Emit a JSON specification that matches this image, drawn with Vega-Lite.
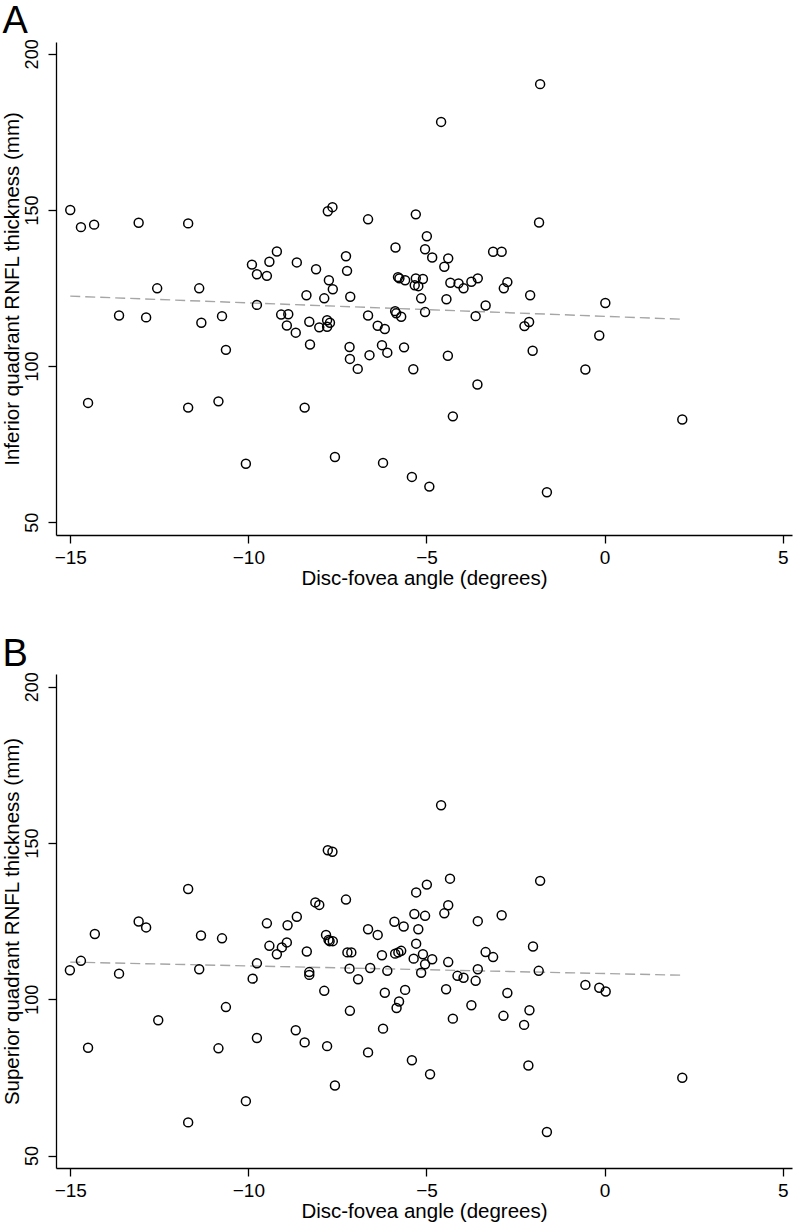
{
  "$schema": "https://vega.github.io/schema/vega-lite/v6.json",
  "padding": {"left": 2, "top": 2, "right": 2, "bottom": 0},
  "background": "white",
  "spacing": 46,
  "config": {
    "view": {"stroke": null},
    "font": "Liberation Sans",
    "axis": {
      "grid": false,
      "domainColor": "black",
      "domainWidth": 1.3,
      "tickColor": "black",
      "tickWidth": 1.3,
      "tickSize": 8,
      "labelColor": "black",
      "titleColor": "black",
      "labelFont": "Liberation Sans",
      "titleFont": "Liberation Sans",
      "titleFontSize": 20.5,
      "titleFontWeight": "normal"
    },
    "axisX": {"labelFontSize": 19, "labelPadding": 5, "titlePadding": 1},
    "axisY": {"labelFontSize": 18, "labelPadding": 7, "titlePadding": 0.5, "labelAngle": -90},
    "title": {"font": "Liberation Sans", "fontWeight": "normal", "fontSize": 38, "color": "black", "anchor": "start", "frame": "bounds", "offset": -2}
  },
  "datasets": {
    "inf": [
      {"angle": -15.0, "thickness": 150.0}, {"angle": -14.7, "thickness": 144.5}, {"angle": -14.33, "thickness": 145.3},
      {"angle": -13.08, "thickness": 145.9}, {"angle": -11.69, "thickness": 145.7}, {"angle": -9.9, "thickness": 132.5},
      {"angle": -9.76, "thickness": 129.4}, {"angle": -9.48, "thickness": 128.9}, {"angle": -9.41, "thickness": 133.4},
      {"angle": -9.2, "thickness": 136.7}, {"angle": -8.64, "thickness": 133.2}, {"angle": -12.56, "thickness": 124.9},
      {"angle": -11.38, "thickness": 124.9}, {"angle": -1.81, "thickness": 190.3}, {"angle": -4.59, "thickness": 178.2},
      {"angle": -7.77, "thickness": 149.6}, {"angle": -7.64, "thickness": 150.9}, {"angle": -6.64, "thickness": 147.0},
      {"angle": -5.3, "thickness": 148.6}, {"angle": -1.84, "thickness": 146.0}, {"angle": -4.99, "thickness": 141.6},
      {"angle": -5.87, "thickness": 138.0}, {"angle": -5.04, "thickness": 137.4}, {"angle": -4.84, "thickness": 134.8},
      {"angle": -4.39, "thickness": 134.5}, {"angle": -4.5, "thickness": 131.8}, {"angle": -3.13, "thickness": 136.6},
      {"angle": -2.89, "thickness": 136.6}, {"angle": -7.26, "thickness": 135.2}, {"angle": -7.23, "thickness": 130.5},
      {"angle": -8.1, "thickness": 131.0}, {"angle": -7.74, "thickness": 127.5}, {"angle": -7.63, "thickness": 124.6},
      {"angle": -5.8, "thickness": 128.5}, {"angle": -5.76, "thickness": 128.1}, {"angle": -5.6, "thickness": 127.5},
      {"angle": -5.3, "thickness": 128.1}, {"angle": -5.1, "thickness": 127.9}, {"angle": -5.33, "thickness": 125.9},
      {"angle": -5.23, "thickness": 125.6}, {"angle": -4.33, "thickness": 126.7}, {"angle": -4.1, "thickness": 126.5},
      {"angle": -3.96, "thickness": 124.9}, {"angle": -3.74, "thickness": 127.0}, {"angle": -3.56, "thickness": 128.1},
      {"angle": -2.73, "thickness": 126.9}, {"angle": -2.83, "thickness": 124.9}, {"angle": -8.37, "thickness": 122.7},
      {"angle": -7.87, "thickness": 121.7}, {"angle": -7.14, "thickness": 122.2}, {"angle": -5.15, "thickness": 121.7},
      {"angle": -4.44, "thickness": 121.4}, {"angle": -2.09, "thickness": 122.7}, {"angle": -8.29, "thickness": 114.2},
      {"angle": -8.67, "thickness": 110.7}, {"angle": -8.01, "thickness": 112.4}, {"angle": -7.79, "thickness": 114.7},
      {"angle": -7.71, "thickness": 113.9}, {"angle": -7.79, "thickness": 112.6}, {"angle": -8.27, "thickness": 106.9},
      {"angle": -6.64, "thickness": 116.2}, {"angle": -6.37, "thickness": 112.9}, {"angle": -6.17, "thickness": 111.9},
      {"angle": -5.88, "thickness": 117.6}, {"angle": -5.85, "thickness": 116.9}, {"angle": -5.71, "thickness": 115.8},
      {"angle": -5.04, "thickness": 117.3}, {"angle": -3.34, "thickness": 119.4}, {"angle": -3.62, "thickness": 116.0},
      {"angle": -2.25, "thickness": 112.8}, {"angle": -2.12, "thickness": 114.1}, {"angle": -7.16, "thickness": 106.1},
      {"angle": -7.15, "thickness": 102.3}, {"angle": -6.93, "thickness": 99.1}, {"angle": -6.6, "thickness": 103.5},
      {"angle": -6.25, "thickness": 106.7}, {"angle": -6.1, "thickness": 104.3}, {"angle": -5.63, "thickness": 106.0},
      {"angle": -5.37, "thickness": 99.0}, {"angle": -4.4, "thickness": 103.3}, {"angle": -2.02, "thickness": 104.9},
      {"angle": -3.57, "thickness": 94.1}, {"angle": -4.26, "thickness": 83.9}, {"angle": -8.42, "thickness": 86.7},
      {"angle": -7.57, "thickness": 70.9}, {"angle": -6.22, "thickness": 69.0}, {"angle": -5.41, "thickness": 64.5},
      {"angle": -4.92, "thickness": 61.4}, {"angle": -1.62, "thickness": 59.6}, {"angle": 0.02, "thickness": 120.2},
      {"angle": -0.15, "thickness": 109.8}, {"angle": -0.54, "thickness": 98.9}, {"angle": 2.18, "thickness": 82.9},
      {"angle": -13.63, "thickness": 116.2}, {"angle": -12.87, "thickness": 115.6}, {"angle": -11.32, "thickness": 113.9},
      {"angle": -10.74, "thickness": 116.0}, {"angle": -10.63, "thickness": 105.2}, {"angle": -9.76, "thickness": 119.6},
      {"angle": -9.08, "thickness": 116.5}, {"angle": -8.88, "thickness": 116.6}, {"angle": -8.92, "thickness": 113.0},
      {"angle": -14.5, "thickness": 88.2}, {"angle": -11.69, "thickness": 86.7}, {"angle": -10.84, "thickness": 88.7},
      {"angle": -10.07, "thickness": 68.7}
    ],
    "sup": [
      {"angle": -11.69, "thickness": 135.3}, {"angle": -13.08, "thickness": 124.9}, {"angle": -12.87, "thickness": 123.0},
      {"angle": -9.48, "thickness": 124.3}, {"angle": -8.9, "thickness": 123.7}, {"angle": -8.64, "thickness": 126.4},
      {"angle": -14.31, "thickness": 120.9}, {"angle": -4.59, "thickness": 162.1}, {"angle": -7.77, "thickness": 147.7},
      {"angle": -7.64, "thickness": 147.2}, {"angle": -4.34, "thickness": 138.6}, {"angle": -1.81, "thickness": 137.9},
      {"angle": -4.99, "thickness": 136.7}, {"angle": -5.29, "thickness": 134.2}, {"angle": -8.12, "thickness": 131.0},
      {"angle": -8.01, "thickness": 130.2}, {"angle": -7.26, "thickness": 131.9}, {"angle": -5.34, "thickness": 127.3},
      {"angle": -5.04, "thickness": 126.7}, {"angle": -4.39, "thickness": 130.1}, {"angle": -4.5, "thickness": 127.5},
      {"angle": -3.56, "thickness": 125.0}, {"angle": -2.89, "thickness": 126.9}, {"angle": -5.9, "thickness": 124.8},
      {"angle": -5.64, "thickness": 123.3}, {"angle": -5.23, "thickness": 122.4}, {"angle": -6.64, "thickness": 122.4},
      {"angle": -6.37, "thickness": 120.6}, {"angle": -7.82, "thickness": 120.6}, {"angle": -7.75, "thickness": 119.0},
      {"angle": -7.63, "thickness": 118.6}, {"angle": -7.72, "thickness": 118.6}, {"angle": -8.36, "thickness": 115.3},
      {"angle": -7.22, "thickness": 115.0}, {"angle": -7.11, "thickness": 115.0}, {"angle": -6.25, "thickness": 114.1},
      {"angle": -5.88, "thickness": 114.6}, {"angle": -5.79, "thickness": 115.0}, {"angle": -5.71, "thickness": 115.5},
      {"angle": -5.29, "thickness": 117.8}, {"angle": -5.36, "thickness": 113.0}, {"angle": -5.1, "thickness": 114.4},
      {"angle": -4.84, "thickness": 112.8}, {"angle": -5.04, "thickness": 111.2}, {"angle": -4.39, "thickness": 111.9},
      {"angle": -3.34, "thickness": 115.1}, {"angle": -3.13, "thickness": 113.5}, {"angle": -2.01, "thickness": 116.9},
      {"angle": -1.85, "thickness": 109.1}, {"angle": -8.29, "thickness": 108.7}, {"angle": -8.29, "thickness": 107.8},
      {"angle": -7.16, "thickness": 109.8}, {"angle": -6.58, "thickness": 110.0}, {"angle": -6.92, "thickness": 106.4},
      {"angle": -6.1, "thickness": 109.1}, {"angle": -5.15, "thickness": 108.5}, {"angle": -4.13, "thickness": 107.5},
      {"angle": -3.96, "thickness": 106.9}, {"angle": -3.62, "thickness": 105.9}, {"angle": -3.56, "thickness": 109.6},
      {"angle": -7.87, "thickness": 102.7}, {"angle": -6.17, "thickness": 102.1}, {"angle": -5.6, "thickness": 103.0},
      {"angle": -5.77, "thickness": 99.3}, {"angle": -5.84, "thickness": 97.2}, {"angle": -4.45, "thickness": 103.2},
      {"angle": -2.73, "thickness": 102.0}, {"angle": -3.74, "thickness": 98.1}, {"angle": -7.15, "thickness": 96.3},
      {"angle": -4.26, "thickness": 93.8}, {"angle": -2.84, "thickness": 94.7}, {"angle": -2.11, "thickness": 96.5},
      {"angle": -2.26, "thickness": 91.8}, {"angle": -6.22, "thickness": 90.6}, {"angle": -8.67, "thickness": 90.1},
      {"angle": -8.42, "thickness": 86.2}, {"angle": -7.79, "thickness": 85.0}, {"angle": -6.64, "thickness": 83.0},
      {"angle": -5.41, "thickness": 80.5}, {"angle": -4.9, "thickness": 76.0}, {"angle": -2.14, "thickness": 78.8},
      {"angle": -7.57, "thickness": 72.4}, {"angle": -1.62, "thickness": 57.5}, {"angle": -0.54, "thickness": 104.6},
      {"angle": -0.15, "thickness": 103.7}, {"angle": 0.03, "thickness": 102.5}, {"angle": 2.18, "thickness": 74.9},
      {"angle": -15.01, "thickness": 109.3}, {"angle": -14.7, "thickness": 112.3}, {"angle": -13.63, "thickness": 108.2},
      {"angle": -14.5, "thickness": 84.5}, {"angle": -12.53, "thickness": 93.3}, {"angle": -11.33, "thickness": 120.4},
      {"angle": -11.38, "thickness": 109.6}, {"angle": -10.74, "thickness": 119.5}, {"angle": -10.63, "thickness": 97.5},
      {"angle": -10.84, "thickness": 84.3}, {"angle": -11.69, "thickness": 60.6}, {"angle": -10.07, "thickness": 67.4},
      {"angle": -9.76, "thickness": 111.5}, {"angle": -9.88, "thickness": 106.6}, {"angle": -9.76, "thickness": 87.6},
      {"angle": -9.41, "thickness": 117.1}, {"angle": -9.2, "thickness": 114.4}, {"angle": -9.06, "thickness": 116.6},
      {"angle": -8.92, "thickness": 118.2}
    ],
    "fitInf": [{"angle": -15.0, "thickness": 122.4}, {"angle": 2.18, "thickness": 115.0}],
    "fitSup": [{"angle": -15.0, "thickness": 111.9}, {"angle": 2.18, "thickness": 107.7}]
  },
  "vconcat": [
    {
      "title": {"text": "A"},
      "width": 736,
      "height": 493,
      "layer": [
        {
          "data": {"name": "fitInf"},
          "mark": {"type": "line", "color": "#a6a6a6", "strokeWidth": 1.4, "strokeDash": [10, 5]},
          "encoding": {
            "x": {"field": "angle", "type": "quantitative"},
            "y": {"field": "thickness", "type": "quantitative"}
          }
        },
        {
          "data": {"name": "inf"},
          "mark": {"type": "point", "shape": "circle", "filled": false, "stroke": "black", "strokeWidth": 1.5, "size": 80, "opacity": 1},
          "encoding": {
            "x": {"field": "angle", "type": "quantitative",
              "scale": {"domain": [-15.4, 5.26], "nice": false, "zero": false},
              "axis": {"title": "Disc-fovea angle (degrees)", "values": [-15, -10, -5, 0, 5]}},
            "y": {"field": "thickness", "type": "quantitative",
              "scale": {"domain": [45.9, 203.8], "nice": false, "zero": false},
              "axis": {"title": "Inferior quadrant RNFL thickness (mm)", "values": [50, 100, 150, 200]}}
          }
        }
      ]
    },
    {
      "title": {"text": "B"},
      "width": 736,
      "height": 494,
      "layer": [
        {
          "data": {"name": "fitSup"},
          "mark": {"type": "line", "color": "#a6a6a6", "strokeWidth": 1.4, "strokeDash": [10, 5]},
          "encoding": {
            "x": {"field": "angle", "type": "quantitative"},
            "y": {"field": "thickness", "type": "quantitative"}
          }
        },
        {
          "data": {"name": "sup"},
          "mark": {"type": "point", "shape": "circle", "filled": false, "stroke": "black", "strokeWidth": 1.5, "size": 80, "opacity": 1},
          "encoding": {
            "x": {"field": "angle", "type": "quantitative",
              "scale": {"domain": [-15.4, 5.26], "nice": false, "zero": false},
              "axis": {"title": "Disc-fovea angle (degrees)", "values": [-15, -10, -5, 0, 5]}},
            "y": {"field": "thickness", "type": "quantitative",
              "scale": {"domain": [46.0, 204.1], "nice": false, "zero": false},
              "axis": {"title": "Superior quadrant RNFL thickness (mm)", "values": [50, 100, 150, 200]}}
          }
        }
      ]
    }
  ]
}
